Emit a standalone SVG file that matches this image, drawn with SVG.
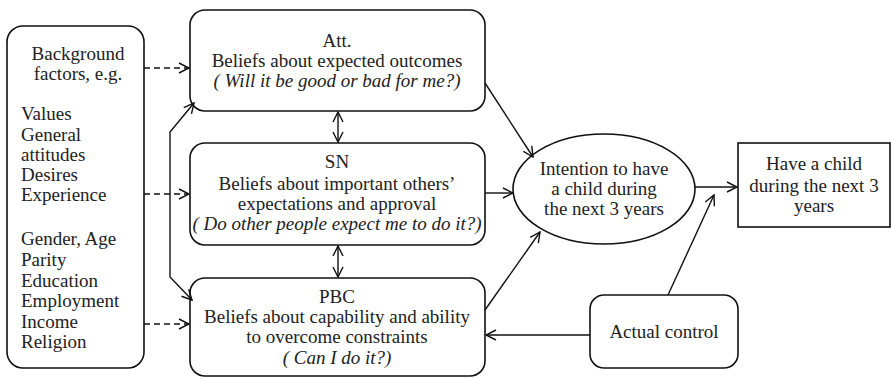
<svg xmlns="http://www.w3.org/2000/svg" width="891" height="379" viewBox="0 0 891 379" font-family="Liberation Serif" font-size="19">
<defs>
<marker id="ah" viewBox="0 0 12 12" refX="11" refY="6" markerWidth="12" markerHeight="12" markerUnits="userSpaceOnUse" orient="auto-start-reverse">
<polyline points="1,1 11,6 1,11" fill="none" stroke="#111" stroke-width="1.4"/>
</marker>
<style>
.box{fill:#fff;stroke:#111;stroke-width:1.6}
.c{text-anchor:middle}
.i{font-style:italic}
.ln{fill:none;stroke:#111;stroke-width:1.4}
.d{stroke-dasharray:6,4}
</style>
</defs>
<rect width="891" height="379" fill="#fff"/>
<g id="background" fill="#222">
<rect class="box" x="7" y="26" width="137" height="342" rx="16"/>
<text class="c" x="78" y="60">Background</text>
<text class="c" x="78" y="80">factors, e.g.</text>
<text x="21" y="120">Values</text>
<text x="21" y="141">General</text>
<text x="21" y="161">attitudes</text>
<text x="21" y="181">Desires</text>
<text x="21" y="201">Experience</text>
<text x="21" y="245">Gender, Age</text>
<text x="21" y="266">Parity</text>
<text x="21" y="287">Education</text>
<text x="21" y="307">Employment</text>
<text x="21" y="328">Income</text>
<text x="21" y="348">Religion</text>
</g>
<g id="att" fill="#222">
<rect class="box" x="190" y="10" width="295" height="101" rx="15"/>
<text class="c" x="337" y="47">Att.</text>
<text class="c" x="337" y="67">Beliefs about expected outcomes</text>
<text class="c i" x="337" y="87">( Will it be good or bad for me?)</text>
</g>
<g id="sn" fill="#222">
<rect class="box" x="190" y="143" width="295" height="102" rx="15"/>
<text class="c" x="337" y="168">SN</text>
<text class="c" x="337" y="190">Beliefs about important others’</text>
<text class="c" x="337" y="210">expectations and approval</text>
<text class="c i" x="337" y="230">( Do other people expect me to do it?)</text>
</g>
<g id="pbc" fill="#222">
<rect class="box" x="190" y="278" width="295" height="98" rx="15"/>
<text class="c" x="337" y="303">PBC</text>
<text class="c" x="337" y="323">Beliefs about capability and ability</text>
<text class="c" x="337" y="343">to overcome constraints</text>
<text class="c i" x="337" y="364">( Can I do it?)</text>
</g>
<g id="intention" fill="#222">
<ellipse class="box" cx="604" cy="189" rx="91" ry="55"/>
<text class="c" x="604" y="175">Intention to have</text>
<text class="c" x="604" y="195">a child during</text>
<text class="c" x="604" y="215">the next 3 years</text>
</g>
<g id="behaviour" fill="#222">
<rect class="box" x="738" y="143" width="152" height="84"/>
<text class="c" x="814" y="170">Have a child</text>
<text class="c" x="814" y="192">during the next 3</text>
<text class="c" x="814" y="212">years</text>
</g>
<g id="control" fill="#222">
<rect class="box" x="590" y="295" width="148" height="73" rx="14"/>
<text class="c" x="664" y="338">Actual control</text>
</g>
<g id="connectors">
<line class="ln d" x1="144" y1="68" x2="189" y2="68" marker-end="url(#ah)"/>
<line class="ln d" x1="144" y1="194" x2="189" y2="194" marker-end="url(#ah)"/>
<line class="ln d" x1="144" y1="324" x2="189" y2="324" marker-end="url(#ah)"/>
<polyline class="ln" points="194,103 170,132 170,277 192,300" marker-start="url(#ah)" marker-end="url(#ah)"/>
<line class="ln" x1="338" y1="112" x2="338" y2="142" marker-start="url(#ah)" marker-end="url(#ah)"/>
<line class="ln" x1="338" y1="246" x2="338" y2="277" marker-start="url(#ah)" marker-end="url(#ah)"/>
<line class="ln" x1="485" y1="83" x2="533" y2="157" marker-end="url(#ah)"/>
<line class="ln" x1="485" y1="193" x2="513" y2="193" marker-end="url(#ah)"/>
<line class="ln" x1="485" y1="310" x2="540" y2="232" marker-end="url(#ah)"/>
<line class="ln" x1="695" y1="187" x2="737" y2="187" marker-end="url(#ah)"/>
<line class="ln" x1="668" y1="295" x2="714" y2="195" marker-end="url(#ah)"/>
<line class="ln" x1="590" y1="335" x2="486" y2="335" marker-end="url(#ah)"/>
</g>
</svg>
